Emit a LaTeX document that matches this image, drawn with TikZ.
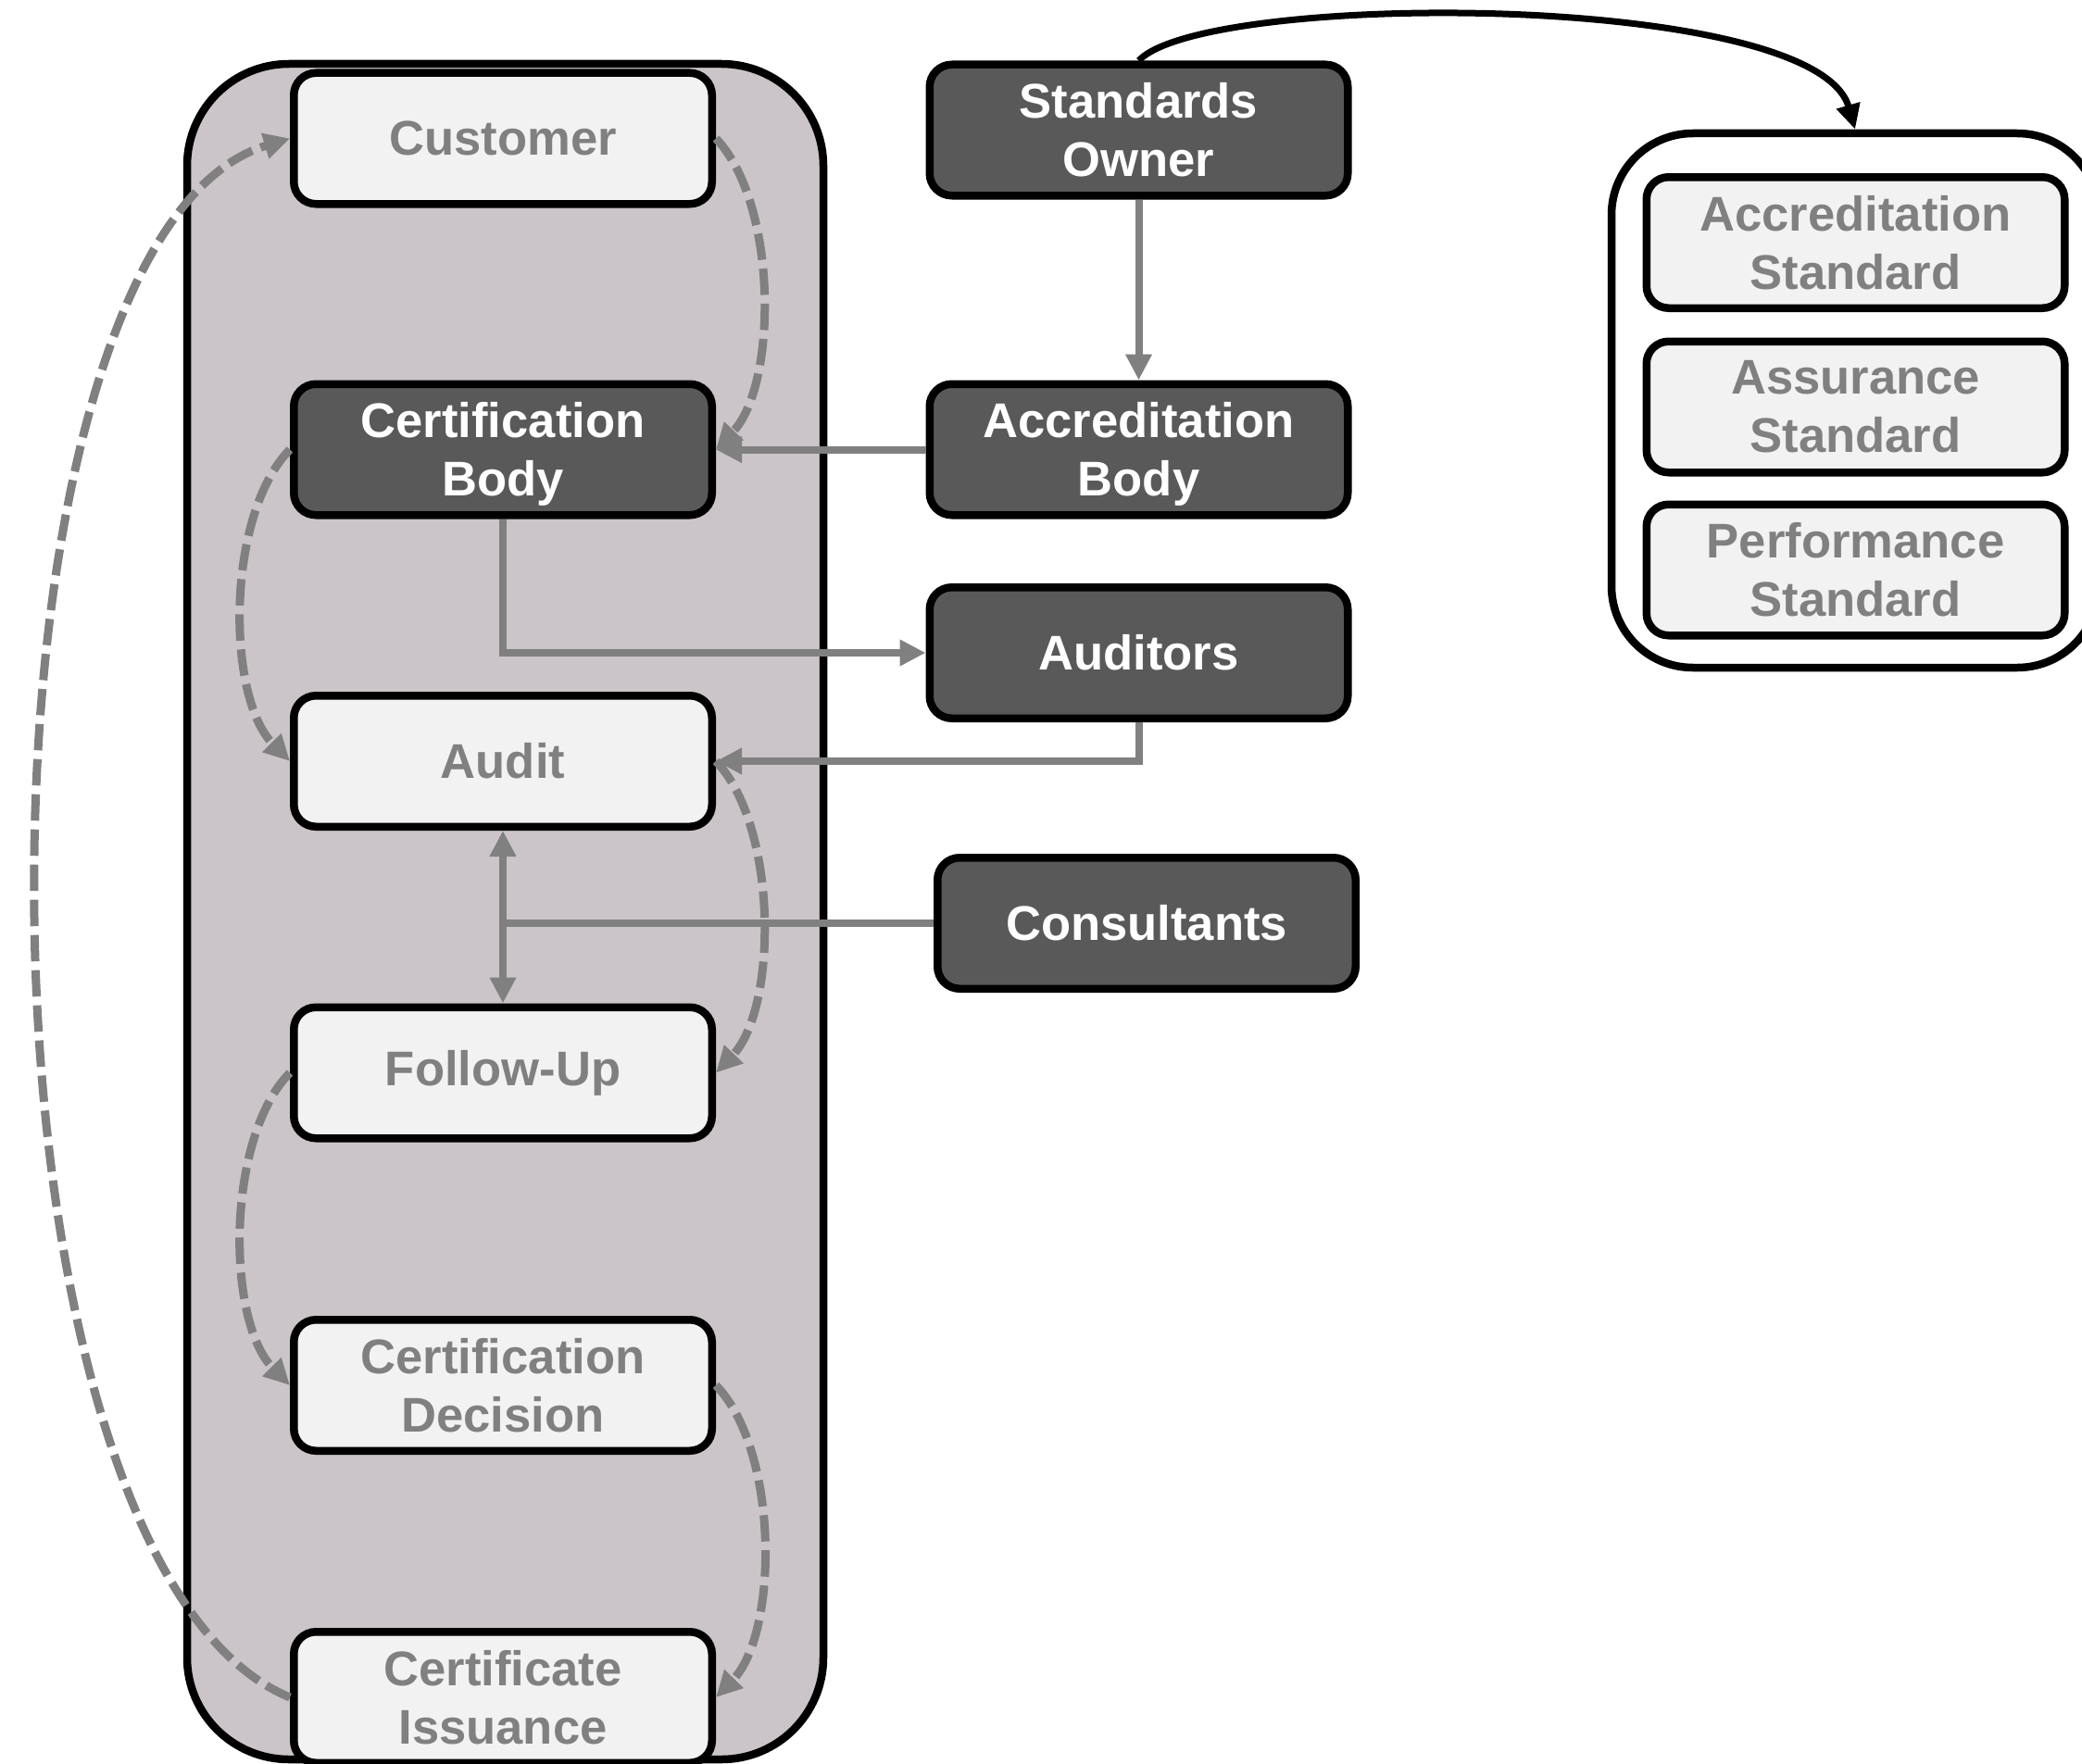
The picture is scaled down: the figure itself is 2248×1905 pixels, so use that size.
\documentclass[tikz,border=0pt]{standalone}
\usepackage{fontspec}
\setmainfont{Liberation Sans}
\usetikzlibrary{arrows.meta}
\definecolor{cContainer}{RGB}{203,197,201}
\definecolor{cLight}{RGB}{242,242,242}
\definecolor{cDark}{RGB}{89,89,89}
\definecolor{cGray}{RGB}{128,128,128}
\begin{document}
\begin{tikzpicture}[x=0.5pt,y=-0.5pt,
  boxbase/.style={draw=black, line width=4.25pt, rounded corners=12pt,
    minimum width=225.75pt, minimum height=70.75pt, inner sep=0pt, align=center,
    font=\fontsize{26.3}{31.5}\selectfont\bfseries},
  lbox/.style={boxbase, fill=cLight, text=cGray},
  dbox/.style={boxbase, fill=cDark, text=white},
  conn/.style={draw=cGray, line width=4pt, -{Triangle[length=14pt,width=13.5pt]}},
  plainconn/.style={draw=cGray, line width=4pt},
  dconn/.style={draw=cGray, line width=4.5pt, dash pattern=on 14.25pt off 4.75pt,
    -{Triangle[length=14pt,width=13.5pt]}},
  blkconn/.style={draw=black, line width=3.5pt, -{Triangle[length=13.5pt,width=12.5pt]}},
  leftcont/.style={draw=black, fill=cContainer, line width=4.25pt, rounded corners=55pt,
    minimum width=343.5pt, minimum height=915.5pt, inner sep=0pt},
  rightcont/.style={draw=black, fill=white, line width=4.25pt, rounded corners=44pt,
    minimum width=263pt, minimum height=288.5pt, inner sep=0pt}
]
\useasboundingbox (0,0) rectangle (2248,1905);

% containers
\node[leftcont] (lc) at (545.5,984.5) {};
\node[rightcont] (rc) at (2003,432.5) {};

% left column
\node[lbox] (cust) at (543,149.5) {Customer};
\node[dbox] (cb) at (543,485.5) {Certification\\Bod\smash{y}};
\node[lbox] (aud) at (543,822) {Audit};
\node[lbox] (fu) at (543,1158.5) {Follow-Up};
\node[lbox] (cd) at (543,1496) {Certification\\Decision};
\node[lbox] (ci) at (543,1833) {Certificate\\Issuance};

% middle column
\node[dbox] (so) at (1229.5,140.5) {Standards\\Owner};
\node[dbox] (ab) at (1229.5,485.5) {Accreditation\\Bod\smash{y}};
\node[dbox] (aut) at (1229.5,705) {Auditors};
\node[dbox] (cons) at (1238,997) {Consultants};

% right column
\node[lbox] (as) at (2003.5,262) {Accreditation\\Standard};
\node[lbox] (asu) at (2003.5,439.5) {Assurance\\Standard};
\node[lbox] (ps) at (2003.5,615.5) {Performance\\Standard};

% solid connectors
\draw[conn] (so.south) -- (ab.north);
\draw[conn] (ab.west) -- (cb.east);
\draw[conn] (cb.south) |- (aut.west);
\draw[conn] (aut.south) |- (aud.east);
\coordinate (jn) at (aud.south |- cons.west);
\draw[plainconn] (cons.west) -- (jn);
\draw[conn] (jn) -- (aud.south);
\draw[conn] (jn) -- (fu.north);

% dashed process flow
\draw[dconn] (cust.east) .. controls +(67,70) and +(67,-70) .. (cb.east);
\draw[dconn] (cb.west) .. controls +(-69,70) and +(-69,-70) .. (aud.west);
\draw[dconn] (aud.east) .. controls +(67,70) and +(67,-70) .. (fu.east);
\draw[dconn] (fu.west) .. controls +(-69,70) and +(-69,-70) .. (cd.west);
\draw[dconn] (cd.east) .. controls +(68,70) and +(68,-70) .. (ci.east);
\draw[dconn] (ci.west) .. controls +(-364,-150) and +(-364,110) .. (cust.west);

% black curved arrow
\draw[blkconn] (so.north) .. controls (1300,-10) and (1960,-10) .. (rc.north);
\end{tikzpicture}
\end{document}
